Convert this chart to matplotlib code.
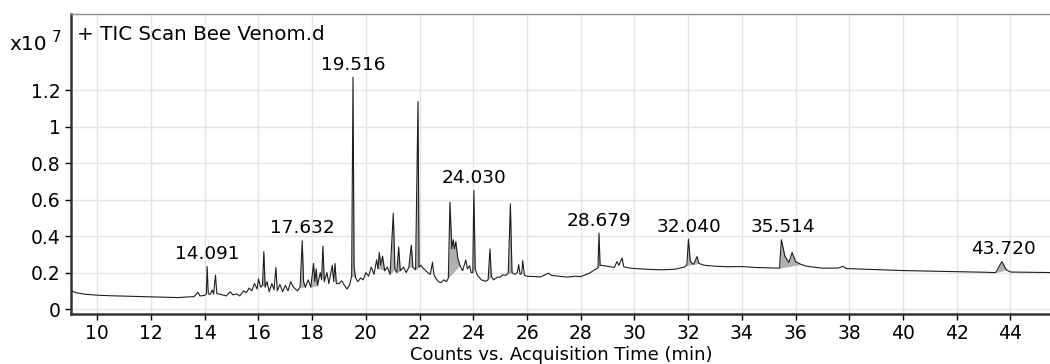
import numpy as np
import matplotlib
matplotlib.use('Agg')
import matplotlib.pyplot as plt

# retention time (min) and counts (x10^7)
time = [9.03, 9.2, 9.5, 10.0, 10.5, 11.0, 11.5, 12.0, 12.5, 13.0, 13.3, 13.6,
        13.75, 13.82, 14.0, 14.06, 14.09, 14.13, 14.2, 14.28, 14.33, 14.40, 14.45,
        14.6, 14.8, 14.95, 15.05, 15.2, 15.3, 15.45, 15.55, 15.65, 15.75, 15.85,
        15.95, 16.0, 16.08, 16.15, 16.2, 16.25, 16.32, 16.4, 16.5, 16.58, 16.65,
        16.7, 16.8, 16.9, 17.0, 17.1, 17.2, 17.3, 17.45, 17.55, 17.63, 17.68,
        17.75, 17.85, 17.95, 18.05, 18.1, 18.15, 18.2, 18.3, 18.35, 18.4, 18.45,
        18.55, 18.62, 18.75, 18.8, 18.85, 18.9, 19.0, 19.1, 19.2, 19.3, 19.4,
        19.47, 19.52, 19.56, 19.62, 19.7, 19.8, 19.9, 20.0, 20.1, 20.2, 20.3,
        20.4, 20.45, 20.5, 20.55, 20.62, 20.7, 20.8, 20.9, 21.02, 21.08, 21.15,
        21.22, 21.28, 21.4, 21.5, 21.6, 21.69, 21.75, 21.85, 21.94, 21.98, 22.05,
        22.12, 22.2, 22.3, 22.4, 22.48, 22.53, 22.6, 22.7, 22.8, 22.9, 23.0,
        23.07, 23.13, 23.2, 23.25, 23.3, 23.35, 23.42, 23.5, 23.6, 23.72, 23.78,
        23.86, 23.92, 23.98, 24.02, 24.07, 24.15, 24.3, 24.45, 24.55, 24.62,
        24.67, 24.75, 24.9, 25.0, 25.1, 25.2, 25.3, 25.38, 25.44, 25.55, 25.64,
        25.69, 25.74, 25.8, 25.84, 25.9, 26.0, 26.3, 26.5, 26.8, 26.9, 27.2,
        27.5, 27.8, 28.0, 28.3, 28.55, 28.64, 28.68, 28.72, 28.9, 29.1, 29.25,
        29.35, 29.42, 29.54, 29.6, 29.8, 30.0, 30.5, 31.0, 31.5, 31.85, 31.95,
        32.01, 32.08, 32.2, 32.33, 32.4, 32.6, 33.0, 33.5, 34.0, 34.5, 35.0,
        35.4, 35.47, 35.6, 35.75, 35.87, 36.0, 36.2, 36.4, 37.0, 37.6, 37.75,
        37.9, 38.5, 39.0, 40.0, 41.0, 42.0, 43.0, 43.45, 43.68, 43.85, 44.0,
        44.5, 45.0, 45.55]
counts = [0.100, 0.090, 0.082, 0.076, 0.073, 0.071, 0.069, 0.067, 0.065, 0.063, 0.066, 0.068,
          0.092, 0.072, 0.075, 0.085, 0.233, 0.085, 0.080, 0.105, 0.082, 0.186, 0.085,
          0.080, 0.072, 0.095, 0.078, 0.083, 0.072, 0.100, 0.090, 0.115, 0.100, 0.140,
          0.110, 0.165, 0.120, 0.130, 0.315, 0.120, 0.150, 0.095, 0.140, 0.105, 0.228,
          0.100, 0.135, 0.095, 0.130, 0.100, 0.150, 0.120, 0.100, 0.120, 0.374, 0.150,
          0.120, 0.160, 0.120, 0.250, 0.150, 0.220, 0.130, 0.200, 0.160, 0.345, 0.150,
          0.200, 0.140, 0.240, 0.150, 0.250, 0.140, 0.140, 0.155, 0.130, 0.110, 0.135,
          0.180, 1.270, 0.230, 0.170, 0.150, 0.170, 0.160, 0.200, 0.180, 0.230, 0.190,
          0.270, 0.220, 0.310, 0.240, 0.290, 0.210, 0.230, 0.190, 0.525, 0.220, 0.200,
          0.340, 0.210, 0.230, 0.200, 0.230, 0.350, 0.230, 0.215, 1.137, 0.230, 0.240,
          0.225, 0.215, 0.200, 0.190, 0.257, 0.190, 0.170, 0.150, 0.145, 0.160, 0.150,
          0.170, 0.586, 0.330, 0.380, 0.330, 0.370, 0.280, 0.240, 0.210, 0.270, 0.220,
          0.237, 0.200, 0.200, 0.650, 0.220, 0.185, 0.160, 0.152, 0.160, 0.330,
          0.180, 0.160, 0.175, 0.175, 0.188, 0.185, 0.195, 0.577, 0.200, 0.190, 0.200,
          0.243, 0.190, 0.195, 0.265, 0.185, 0.180, 0.178, 0.176, 0.197, 0.185, 0.180,
          0.175, 0.180, 0.178, 0.195, 0.218, 0.225, 0.416, 0.240, 0.237, 0.232, 0.228,
          0.260, 0.240, 0.280, 0.232, 0.225, 0.222, 0.218, 0.215, 0.218, 0.230, 0.240,
          0.383, 0.260, 0.245, 0.288, 0.250, 0.240, 0.235, 0.232, 0.233, 0.228, 0.226,
          0.224, 0.380, 0.290, 0.255, 0.310, 0.260, 0.245, 0.235, 0.224, 0.225, 0.234,
          0.222, 0.219, 0.216, 0.211, 0.208, 0.205, 0.202, 0.200, 0.260, 0.215, 0.203,
          0.202, 0.201, 0.200]

# integrated peak windows (shaded)
windows = [(16.15, 16.25), (17.55, 17.75), (17.95, 18.2), (18.3, 18.45), (18.7, 18.9),
           (19.47, 19.62), (20.35, 20.7), (20.9, 21.08), (21.15, 21.28), (21.6, 21.75),
           (21.85, 22.05), (23.07, 23.5), (23.98, 24.07), (24.55, 24.67), (25.3, 25.44),
           (28.64, 28.72), (31.95, 32.4), (35.4, 36.2), (43.45, 43.85)]

peak_labels = ['14.091', '17.632', '19.516', '24.030', '28.679', '32.040', '35.514', '43.720']


def draw():
    t = np.array(time)
    c = np.array(counts)
    fig = plt.figure(figsize=(10.5, 3.64), dpi=100)
    ax = fig.add_axes([71 / 1050, 1 - 314 / 364, 1 - 71 / 1050 + 0.002, 300 / 364])

    for a, b in windows:
        m = (t >= a) & (t <= b)
        chord = np.interp(t[m], [a, b], [np.interp(a, t, c), np.interp(b, t, c)])
        ax.fill_between(t[m], c[m], chord, color='#b0b0b0', lw=0, zorder=2)

    ax.plot(t, c, color='#1e1e1e', lw=0.8, zorder=3)

    for lab in peak_labels:
        x = float(lab)
        m = (t > x - 0.06) & (t < x + 0.06)
        y = c[m].max()
        ax.annotate(lab, xy=(x, y), xytext=(0, 2.5), textcoords='offset points',
                    ha='center', va='bottom', fontsize=13.3)

    ax.set_xlim(9.02, 45.55)
    ax.set_ylim(-0.027, 1.617)
    ax.set_xticks(range(10, 46, 2))
    ax.set_yticks([0, 0.2, 0.4, 0.6, 0.8, 1.0, 1.2])
    ax.set_yticklabels(['0', '0.2', '0.4', '0.6', '0.8', '1', '1.2'])
    ax.grid(True, color='#e4e4e4', lw=1)
    ax.set_axisbelow(True)
    ax.tick_params(labelsize=13.5, direction='out', length=4, width=1, pad=3.5)

    ax.spines['right'].set_visible(False)
    ax.spines['top'].set_color('#8c8c8c')
    ax.spines['top'].set_linewidth(1)
    for s in ('left', 'bottom'):
        ax.spines[s].set_color('#333333')
        ax.spines[s].set_linewidth(1.8)

    ax.set_xlabel('Counts vs. Acquisition Time (min)', fontsize=13, labelpad=1.5)

    fig.text(77 / 1050, 1 - 34 / 364, '+ TIC Scan Bee Venom.d', fontsize=14.3, va='center')
    fig.text(9 / 1050, 1 - 44 / 364, 'x10', fontsize=14.5, va='center')
    fig.text(52 / 1050, 1 - 37 / 364, '7', fontsize=11, va='center')

    fig.savefig('out.png', dpi=100)
    plt.close()


if __name__ == '__main__':
    draw()
